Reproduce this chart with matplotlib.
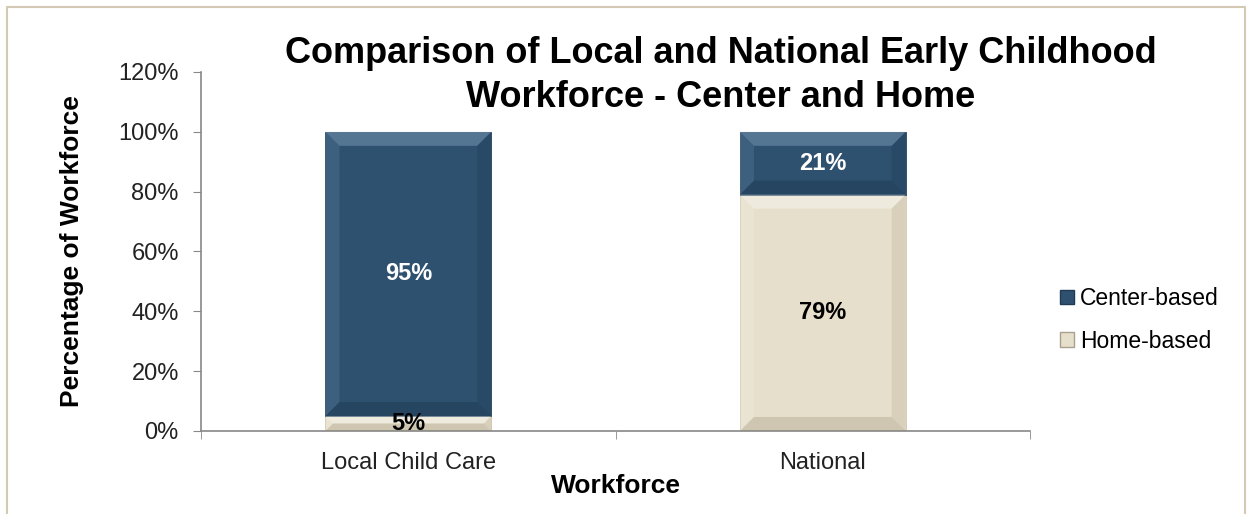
import matplotlib
matplotlib.use("Agg")
import matplotlib.pyplot as plt
from matplotlib.patches import Polygon, Rectangle
from matplotlib.ticker import FuncFormatter
import numpy as np

categories = ["Local Child Care", "National"]
home_based = [5, 79]
center_based = [95, 21]
series_names = ["Center-based", "Home-based"]
yticks = [0, 20, 40, 60, 80, 100, 120]

center_color = "#2E5170"
home_color = "#E6DFCB"

plt.rcParams['font.family'] = ['Liberation Sans', 'DejaVu Sans']

fig = plt.figure(figsize=(12.49, 5.14), dpi=100)
ax = fig.add_axes([0.161, 0.1615, 0.6637, 0.6985])

x = np.arange(len(categories))
width = 0.4
b_home = ax.bar(x, home_based, width, color=home_color, edgecolor="#CFC6B0", linewidth=0.6, label="Home-based", zorder=2)
b_center = ax.bar(x, center_based, width, bottom=home_based, color=center_color, edgecolor="#27465F", linewidth=0.6, label="Center-based", zorder=2)

ax.set_xlim(-0.5, 1.5)
ax.set_ylim(0, 120)
ax.set_yticks(yticks)
ax.yaxis.set_major_formatter(FuncFormatter(lambda v, p: f"{int(v)}%"))
ax.set_xticks(x)
ax.set_xticklabels(categories)
ax.set_xticks([-0.5, 0.5, 1.5], minor=True)
ax.tick_params(axis='x', which='major', length=0, pad=15, labelsize=17, colors="#222222")
ax.tick_params(axis='x', which='minor', length=6, color="#888888")
ax.tick_params(axis='y', length=6, color="#888888", labelsize=17, labelcolor="#222222", pad=10)
for s in ["top", "right"]:
    ax.spines[s].set_visible(False)
for s in ["left", "bottom"]:
    ax.spines[s].set_color("#888888")
    ax.spines[s].set_linewidth(1.2)

ax.set_ylabel("Percentage of Workforce", fontsize=19, fontweight="bold", labelpad=25)
ax.set_xlabel("Workforce", fontsize=19, fontweight="bold", labelpad=0)

fig.text(0.577, 1 - 75.5 / 514, "Comparison of Local and National Early Childhood\nWorkforce - Center and Home",
         ha="center", va="center", fontsize=26, fontweight="bold", linespacing=1.32)

# bevel effect drawn from bar geometry in pixel space
fig.canvas.draw()
def bevel(rect, light, dark):
    bb = rect.get_window_extent()
    x0, y0, x1, y1 = bb.x0, bb.y0, bb.x1, bb.y1
    d = min(14, (y1 - y0) / 2, (x1 - x0) / 2)
    inv = ax.transData.inverted()
    def tr(pts):
        return inv.transform(pts)
    top = tr([(x0, y1), (x1, y1), (x1 - d, y1 - d), (x0 + d, y1 - d)])
    bot = tr([(x0, y0), (x1, y0), (x1 - d, y0 + d), (x0 + d, y0 + d)])
    left = tr([(x0, y0), (x0, y1), (x0 + d, y1 - d), (x0 + d, y0 + d)])
    right = tr([(x1, y0), (x1, y1), (x1 - d, y1 - d), (x1 - d, y0 + d)])
    ax.add_patch(Polygon(top, closed=True, facecolor=light, alpha=0.35, lw=0, zorder=3))
    ax.add_patch(Polygon(left, closed=True, facecolor=light, alpha=0.15, lw=0, zorder=3))
    ax.add_patch(Polygon(right, closed=True, facecolor=dark, alpha=0.15, lw=0, zorder=3))
    ax.add_patch(Polygon(bot, closed=True, facecolor=dark, alpha=0.25, lw=0, zorder=3))

for r in b_center:
    bevel(r, "#9FBCD6", "#0E2233")
for r in b_home:
    bevel(r, "#FFFFFF", "#8A7F66")

for i in range(len(categories)):
    ax.text(x[i], home_based[i] / 2, f"{home_based[i]}%", ha="center", va="center",
            fontsize=17, fontweight="bold", color="black", zorder=5)
    ax.text(x[i], home_based[i] + center_based[i] / 2, f"{center_based[i]}%", ha="center", va="center",
            fontsize=17, fontweight="bold", color="white", zorder=5)

handles = [Rectangle((0, 0), 1, 1, facecolor=center_color, edgecolor="#1F3A52"),
           Rectangle((0, 0), 1, 1, facecolor=home_color, edgecolor="#A9A18C")]
fig.legend(handles, series_names, loc="center left", bbox_to_anchor=(0.849, 1 - 320 / 514),
           frameon=False, fontsize=16.5, handlelength=0.6, handleheight=0.6,
           handletextpad=0.25, labelspacing=0.85, borderpad=0, borderaxespad=0)

# outer border (top, left, right)
border_color = "#D3C9B4"
fig.add_artist(plt.Line2D([0.006, 0.006, 0.997, 0.997], [0.0, 0.986, 0.986, 0.0],
                          transform=fig.transFigure, color=border_color, lw=1.5))

fig.savefig("out.png", dpi=100)
